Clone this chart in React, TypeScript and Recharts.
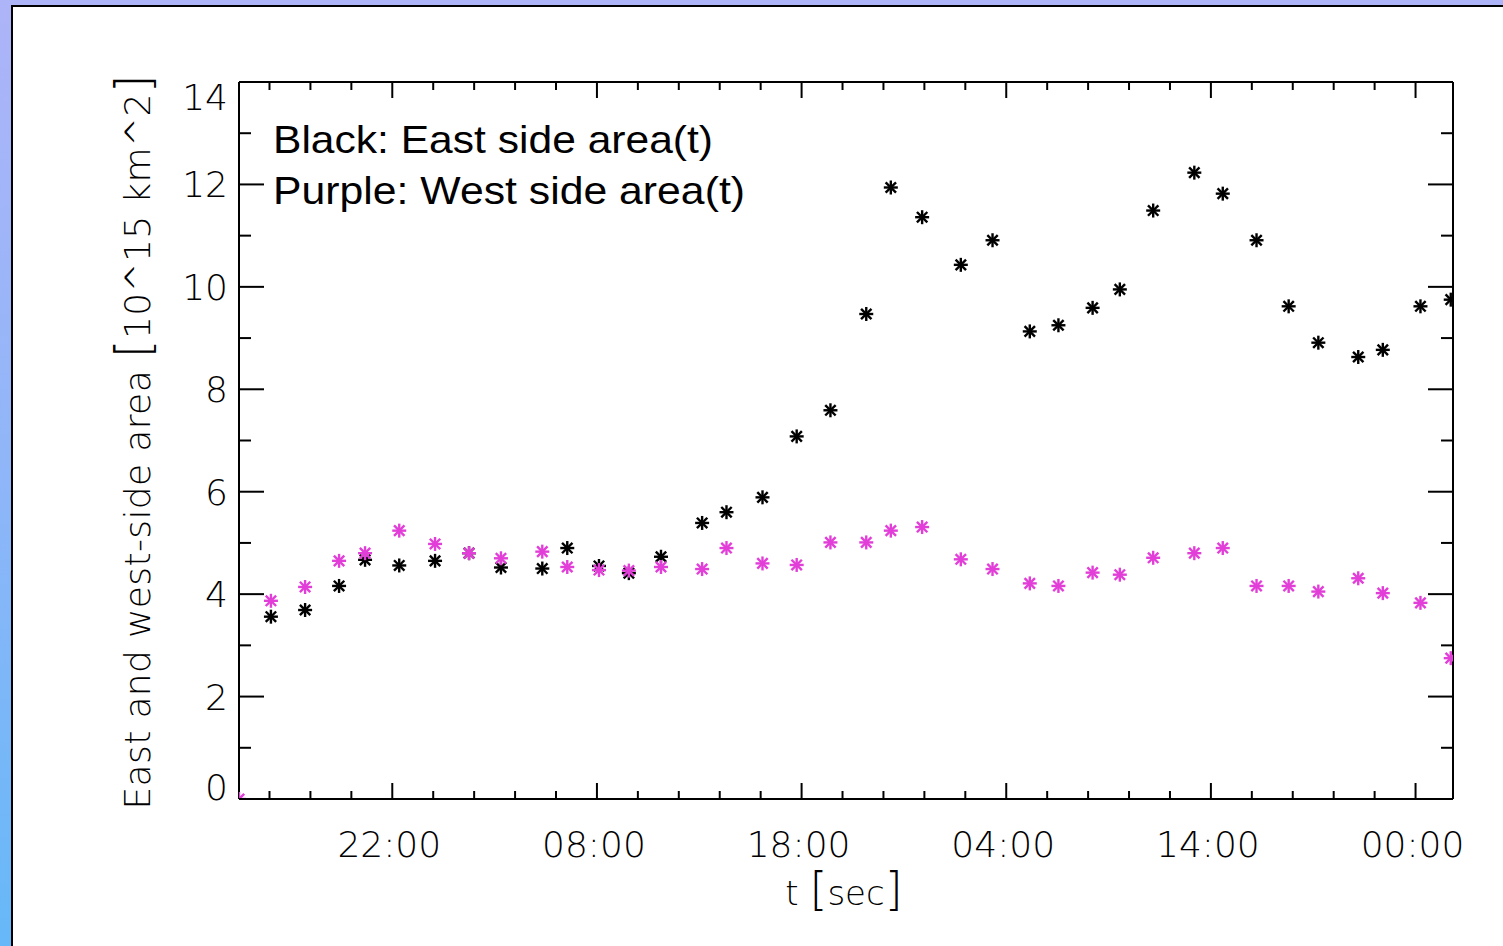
import React from 'react'
import { ScatterChart, Scatter, XAxis, YAxis } from 'recharts'

// sample times in hours (22 = 22:00 of day one, 32 = 08:00 next day ...)
const times = [
  14.51, 16.07, 17.74, 19.4, 20.67, 22.34, 24.09, 25.75, 27.31, 29.33, 30.55,
  32.1, 33.56, 35.13, 37.14, 38.33, 40.09, 41.76, 43.41, 45.16, 46.36, 47.89,
  49.78, 51.33, 53.15, 54.55, 56.22, 57.55, 59.18, 61.19, 62.58, 64.23, 65.8,
  67.25, 69.2, 70.4, 72.24, 73.72,
]

// black: east side area [10^15 km^2]
const eastArea = [
  null, 3.56, 3.69, 4.16, 4.67, 4.56, 4.65, 4.8, 4.52, 4.5, 4.9, 4.55, 4.41,
  4.73, 5.39, 5.6, 5.89, 7.08, 7.59, 9.47, 11.94, 11.36, 10.43, 10.91, 9.13,
  9.25, 9.59, 9.95, 11.49, 12.23, 11.82, 10.91, 9.62, 8.91, 8.63, 8.77, 9.62,
  9.75,
]

// purple: west side area [10^15 km^2]
const westArea = [
  0, 3.87, 4.14, 4.65, 4.8, 5.24, 4.98, 4.8, 4.7, 4.83, 4.53, 4.47, 4.46, 4.53,
  4.49, 4.9, 4.6, 4.57, 5.01, 5.01, 5.24, 5.31, 4.68, 4.49, 4.21, 4.16, 4.42,
  4.38, 4.71, 4.8, 4.9, 4.16, 4.16, 4.05, 4.31, 4.02, 3.83, 2.75,
]

const xTicks = [
  16, 18, 20, 22, 24, 26, 28, 30, 32, 34, 36, 38, 40, 42, 44, 46, 48, 50, 52,
  54, 56, 58, 60, 62, 64, 66, 68, 70, 72,
]
const xMajor = [22, 32, 42, 52, 62, 72]
const xTickLabels = ['22:00', '08:00', '18:00', '04:00', '14:00', '00:00']

const yTicks = [0, 1, 2, 3, 4, 5, 6, 7, 8, 9, 10, 11, 12, 13, 14]
const yTickLabels = ['0', '2', '4', '6', '8', '10', '12', '14']

const xDomain = [14.51, 73.83]
const yDomain = [0, 14]

const eastData = times
  .map((t, i) => ({ t, v: eastArea[i] }))
  .filter((d) => d.v !== null)
const westData = times.map((t, i) => ({ t, v: westArea[i] }))

const tickFont = "'DejaVu Sans', sans-serif"

const asterisk = (color: string) => (props: any) => {
  const { cx, cy } = props
  if (cx == null || cy == null) return <g />
  const r = 7
  const d = 5.2
  return (
    <g stroke={color} strokeWidth={2.4}>
      <line x1={cx - r} y1={cy} x2={cx + r} y2={cy} />
      <line x1={cx} y1={cy - r} x2={cx} y2={cy + r} />
      <line x1={cx - d} y1={cy - d} x2={cx + d} y2={cy + d} />
      <line x1={cx - d} y1={cy + d} x2={cx + d} y2={cy - d} />
    </g>
  )
}

const BottomTick = (props: any) => {
  const { x, y, payload } = props
  const idx = xMajor.indexOf(payload.value)
  return (
    <g>
      <line x1={x} x2={x} y1={y} y2={y - (idx >= 0 ? 16 : 8)} stroke="#000" strokeWidth={2} />
      {idx >= 0 && (
        <text x={x - 3} y={y + 58} textAnchor="middle" fontFamily={tickFont} fontWeight={200} fontSize={36} fill="#000">
          {xTickLabels[idx]}
        </text>
      )}
    </g>
  )
}

const TopTick = (props: any) => {
  const { x, y, payload } = props
  const major = xMajor.includes(payload.value)
  return <line x1={x} x2={x} y1={y} y2={y + (major ? 16 : 8)} stroke="#000" strokeWidth={2} />
}

const LeftTick = (props: any) => {
  const { x, y, payload } = props
  const v = payload.value
  const major = v % 2 === 0
  let dy = 13
  if (v === 14) dy = 28
  if (v === 0) dy = 1
  return (
    <g>
      <line x1={x} x2={x + (major ? 25 : 12)} y1={y} y2={y} stroke="#000" strokeWidth={2} />
      {major && (
        <text x={x - 11} y={y + dy} textAnchor="end" fontFamily={tickFont} fontWeight={200} fontSize={36} fill="#000">
          {yTickLabels[v / 2]}
        </text>
      )}
    </g>
  )
}

const RightTick = (props: any) => {
  const { x, y, payload } = props
  const major = payload.value % 2 === 0
  return <line x1={x} x2={x - (major ? 25 : 12)} y1={y} y2={y} stroke="#000" strokeWidth={2} />
}

export default function App() {
  return (
    <div style={pageStyle}>
      <div style={slideStyle} />
      <div style={{ position: 'absolute', left: 0, top: 0 }}>
        <ScatterChart
          width={1503}
          height={946}
          margin={{ top: 81, right: 49, bottom: 87, left: 139 }}
        >
          <XAxis
            xAxisId="b"
            type="number"
            dataKey="t"
            domain={xDomain}
            ticks={xTicks}
            interval={0}
            allowDataOverflow
            height={60}
            tickSize={0}
            tickMargin={0}
            tick={<BottomTick />}
            axisLine={{ stroke: '#000', strokeWidth: 2 }}
          />
          <XAxis
            xAxisId="t"
            orientation="top"
            type="number"
            dataKey="t"
            domain={xDomain}
            ticks={xTicks}
            interval={0}
            allowDataOverflow
            height={1}
            tickSize={0}
            tickMargin={0}
            tick={<TopTick />}
            axisLine={{ stroke: '#000', strokeWidth: 2 }}
          />
          <YAxis
            yAxisId="l"
            type="number"
            dataKey="v"
            domain={yDomain}
            ticks={yTicks}
            interval={0}
            allowDataOverflow
            width={100}
            tickSize={0}
            tickMargin={0}
            tick={<LeftTick />}
            axisLine={{ stroke: '#000', strokeWidth: 2 }}
          />
          <YAxis
            yAxisId="r"
            orientation="right"
            type="number"
            dataKey="v"
            domain={yDomain}
            ticks={yTicks}
            interval={0}
            allowDataOverflow
            width={1}
            tickSize={0}
            tickMargin={0}
            tick={<RightTick />}
            axisLine={{ stroke: '#000', strokeWidth: 2 }}
          />
          <Scatter
            name="East"
            data={eastData}
            xAxisId="b"
            yAxisId="l"
            shape={asterisk('#000000')}
            isAnimationActive={false}
          />
          <Scatter
            name="West"
            data={westData}
            xAxisId="b"
            yAxisId="l"
            shape={asterisk('#e23ed8')}
            isAnimationActive={false}
          />
        </ScatterChart>
      </div>
      <svg width={1503} height={946} style={{ position: 'absolute', left: 0, top: 0, pointerEvents: 'none' }}>
        <g fontFamily="'Liberation Sans', Arial, sans-serif" fontSize={39} fill="#000">
          <text x={273} y={153} textLength={440} lengthAdjust="spacingAndGlyphs">
            Black: East side area(t)
          </text>
          <text x={273} y={204} textLength={472} lengthAdjust="spacingAndGlyphs">
            Purple: West side area(t)
          </text>
        </g>
        <text x={844} y={905} textAnchor="middle" fontFamily={tickFont} fontWeight={200} fontSize={34} fill="#000">
          t <tspan fontSize={46}>[</tspan>sec<tspan fontSize={46}>]</tspan>
        </text>
        <text
          transform="translate(150,442) rotate(-90)"
          textAnchor="middle"
          fontFamily={tickFont}
          fontWeight={200}
          fontSize={36}
          fill="#000"
          textLength={735}
          lengthAdjust="spacing"
        >
          East and west-side area <tspan fontSize={48}>[</tspan>10^15 km^2<tspan fontSize={48}>]</tspan>
        </text>
      </svg>
    </div>
  )
}

const pageStyle: React.CSSProperties = {
  position: 'absolute',
  left: 0,
  top: 0,
  width: 1503,
  height: 946,
  overflow: 'hidden',
  background: 'linear-gradient(to bottom, #aeb4f8 0%, #8fb6f8 50%, #66b8f8 100%)',
}

const slideStyle: React.CSSProperties = {
  position: 'absolute',
  left: 11,
  top: 5,
  right: 0,
  bottom: 0,
  background: '#fff',
  borderLeft: '2px solid #000',
  borderTop: '2px solid #000',
}
